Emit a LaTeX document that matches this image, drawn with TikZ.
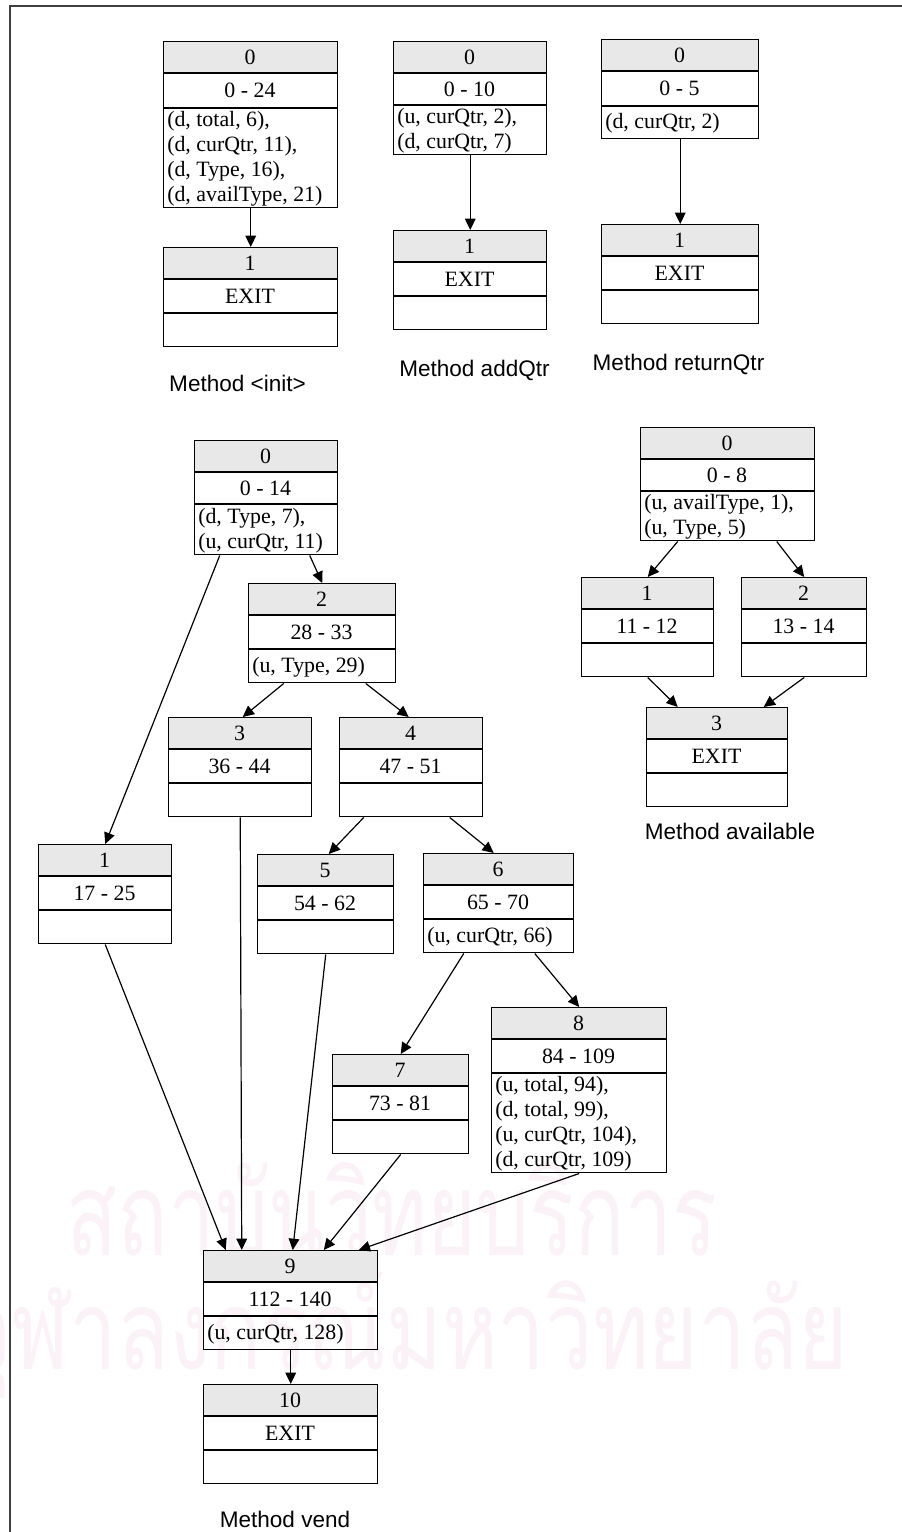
\documentclass[tikz,border=0pt]{standalone}
\usepackage{fontspec}
\usepackage{graphicx}
\setmainfont{Liberation Serif}
\newfontfamily\labelfont{Liberation Sans}
\newfontfamily\thaifont[Script=Thai]{Loma}
\usetikzlibrary{arrows.meta,calc}

\definecolor{wmark}{RGB}{250,242,246}

\tikzset{
  hdrfill/.style={fill=gray!18},
  rowline/.style={line width=1.1pt},
  boxframe/.style={draw, line width=1.1pt, inner sep=0pt, anchor=north west},
  boxtext/.style={font=\fontsize{16.4}{18.75}\selectfont, inner sep=0pt},
  flow/.style={line width=0.9pt, -{Triangle[length=8.5pt,width=8pt]}},
  caption/.style={font=\labelfont\fontsize{16.9}{20}\selectfont, anchor=base, inner sep=0pt},
  frameline/.style={line width=1pt, black!75},
}

% A flow-graph block: header (block number), line range, list of def/use tuples.
% #1 name, #2 left x, #3 top y, #4 width, #5 range-row height,
% #6 tuple-row height, #7 block number, #8 line range, #9 tuple lines
\newcommand\cfgbox[9]{%
  \fill[hdrfill] (#2,#3) rectangle ++(#4,32);
  \draw[rowline] (#2,#3+32) -- ++(#4,0) (#2,#3+32+#5) -- ++(#4,0);
  \node[boxtext,anchor=base] at (#2+#4/2,#3+23) {#7};
  \node[boxtext,anchor=base] at (#2+#4/2,#3+39+#5/2) {#8};
  \gdef\cfgcount{0}%
  \foreach \dline [count=\k] in {#9} {\xdef\cfgcount{\k}}%
  \pgfmathsetmacro\cfgbase{#3+32+#5+(#6-25*\cfgcount)/2+19}%
  \foreach \dline [count=\k] in {#9} {\node[boxtext,anchor=base west] at (#2+4,\cfgbase+25*\k-25) {\dline};}%
  \node[boxframe, minimum width=#4*0.75pt, minimum height=(32+#5+#6)*0.75pt] (#1) at (#2,#3) {};
}

\begin{document}
\begin{tikzpicture}[x=0.75pt,y=-0.75pt]
\useasboundingbox (0,0) rectangle (902,1532);

% faint background lettering
\node[anchor=base, inner sep=0pt, text=wmark] (wm1) at (392,1255)
  {\resizebox{487.5pt}{69.75pt}{\thaifont สถาบันวิทยบริการ}};
\node[anchor=base, inner sep=0pt, text=wmark] (wm2) at (405,1369)
  {\resizebox{663.75pt}{72.75pt}{\thaifont จุฬาลงกรณ์มหาวิทยาลัย}};

% page frame
\draw[frameline] (10,1532) -- (10,6) -- (902,6);

% Method <init>
\cfgbox{i0}{163}{41}{174}{35}{99}{0}{0 - 24}{{(d, total, 6),},{(d, curQtr, 11),},{(d, Type, 16),},{(d, availType, 21)}}
\cfgbox{i1}{163}{247}{174}{34}{33}{1}{EXIT}{}
\draw[flow] (i0.south) -- (i1.north);
\node[caption] (capi) at (237.5,391) {Method <init>};

% Method addQtr
\cfgbox{a0}{393}{41}{153}{32}{49}{0}{0 - 10}{{(u, curQtr, 2),},{(d, curQtr, 7)}}
\cfgbox{a1}{393}{230}{153}{34}{33}{1}{EXIT}{}
\draw[flow] (a0.south) -- (a1.north);
\node[caption] (capa) at (474.5,376) {Method addQtr};

% Method returnQtr
\cfgbox{r0}{601}{39}{157}{35}{32}{0}{0 - 5}{{(d, curQtr, 2)}}
\cfgbox{r1}{601}{224}{157}{34}{33}{1}{EXIT}{}
\draw[flow] (r0.south) -- (r1.north);
\node[caption] (capr) at (678.5,370) {Method returnQtr};

% Method available
\cfgbox{av0}{640}{427}{174}{32}{49}{0}{0 - 8}{{(u, availType, 1),},{(u, Type, 5)}}
\cfgbox{av1}{581}{577}{132}{34}{33}{1}{11 - 12}{}
\cfgbox{av2}{741}{577}{125}{34}{33}{2}{13 - 14}{}
\cfgbox{av3}{646}{707}{141}{34}{33}{3}{EXIT}{}
\draw[flow] ($(av0.south)+(-50,0)$) -- (av1.north);
\draw[flow] ($(av0.south)+(49,0)$) -- (av2.north);
\draw[flow] (av1.south) -- ($(av3.north)+(-39.5,0)$);
\draw[flow] (av2.south) -- ($(av3.north)+(46.5,0)$);
\node[caption] (capav) at (730,839) {Method available};

% Method vend
\cfgbox{v0}{194}{440}{143}{32}{50}{0}{0 - 14}{{(d, Type, 7),},{(u, curQtr, 11)}}
\cfgbox{v1}{38}{844}{133}{34}{33}{1}{17 - 25}{}
\cfgbox{v2}{248}{583}{147}{34}{33}{2}{28 - 33}{{(u, Type, 29)}}
\cfgbox{v3}{168}{717}{143}{34}{33}{3}{36 - 44}{}
\cfgbox{v4}{339}{717}{143}{34}{33}{4}{47 - 51}{}
\cfgbox{v5}{257}{854}{136}{34}{33}{5}{54 - 62}{}
\cfgbox{v6}{423}{853}{150}{34}{33}{6}{65 - 70}{{(u, curQtr, 66)}}
\cfgbox{v7}{332}{1054}{136}{34}{33}{7}{73 - 81}{}
\cfgbox{v8}{491}{1007}{175}{34}{99}{8}{84 - 109}{{(u, total, 94),},{(d, total, 99),},{(u, curQtr, 104),},{(d, curQtr, 109)}}
\cfgbox{v9}{203}{1250}{174}{34}{33}{9}{112 - 140}{{(u, curQtr, 128)}}
\cfgbox{v10}{203}{1384}{174}{34}{33}{10}{EXIT}{}

\draw[flow] ($(v0.south)+(-46.5,0)$) -- (v1.north);
\draw[flow] ($(v0.south)+(43.5,0)$) -- (v2.north);
\draw[flow] ($(v2.south)+(-38.5,0)$) -- ($(v3.north)+(2.5,0)$);
\draw[flow] ($(v2.south)+(43.5,0)$) -- ($(v4.north)+(-2.5,0)$);
\draw[flow] ($(v4.south)+(-47.5,0)$) -- ($(v5.north)+(3,0)$);
\draw[flow] ($(v4.south)+(38.5,0)$) -- ($(v6.north)+(-5,0)$);
\draw[flow] ($(v6.south)+(-35,0)$) -- (v7.north);
\draw[flow] ($(v6.south)+(36,0)$) -- (v8.north);
\draw[flow] (v1.south) -- ($(v9.north)+(-65,0)$);
\draw[flow] (v3.south) -- ($(v9.north)+(-49,0)$);
\draw[flow] (v5.south) -- ($(v9.north)+(2,0)$);
\draw[flow] (v7.south) -- ($(v9.north)+(33,0)$);
\draw[flow] (v8.south) -- ($(v9.north)+(68,0)$);
\draw[flow] (v9.south) -- (v10.north);
\node[caption] (capv) at (285,1527) {Method vend};
\end{tikzpicture}
\end{document}
